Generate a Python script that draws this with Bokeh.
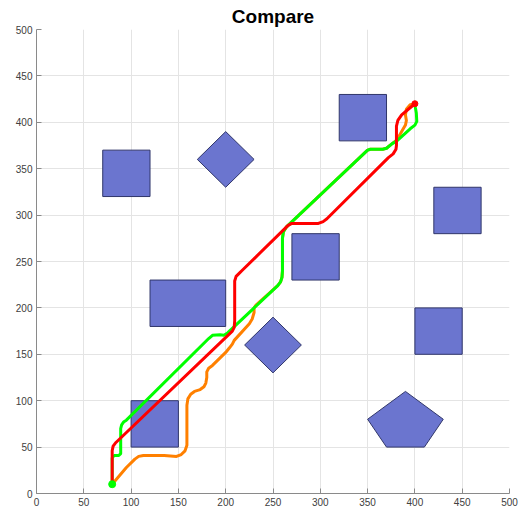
from bokeh.plotting import figure
from bokeh.models import Range1d, FixedTicker
from bokeh.embed import file_html
from bokeh.resources import INLINE

# Obstacles: axis-aligned boxes (lower-left corner, width, height)
box_x0 = [100, 120, 70, 270, 320, 420, 400]
box_y0 = [50, 180, 320, 230, 380, 280, 150]
box_w = [50, 80, 50, 50, 50, 50, 50]
box_h = [50, 50, 50, 50, 50, 50, 50]

# Obstacles: diamonds (centre and half-diagonal)
dia_cx = [200, 250]
dia_cy = [360, 160]
dia_r = [30, 30]

# Obstacle: pentagon vertices
pent_x = [390, 430, 410, 370, 350]
pent_y = [110, 80, 50, 50, 80]

start = (80, 10)
goal = (400, 420)

# Planned paths
green_x = [80, 80, 81, 83, 87, 89, 89, 90, 92, 95, 182, 186, 194, 198, 202, 255, 258, 259.5,
           260, 260, 261, 264, 350, 353, 366, 370, 376, 381, 395, 400, 402, 401.5, 400.5, 400]
green_y = [10, 38, 40, 41, 41, 43, 70, 74, 77, 79, 167, 170.5, 171, 170.5, 173, 224, 228, 233,
           240, 275, 282, 287, 370, 371, 371, 372, 377, 380, 393, 397, 401, 410, 416, 420]

orange_x = [80, 95, 104, 108, 113, 135, 148, 153, 157, 159, 159, 160, 163, 167, 173, 177, 179,
            180, 180, 182, 186, 200, 204, 207, 209, 225, 228, 230, 230, 232, 255, 258, 259.5,
            260, 260, 261, 264, 350, 353, 366, 370, 376, 381, 386, 390, 391, 390, 391, 395, 400]
orange_y = [10, 28, 37, 40, 41, 41, 40, 42, 46, 52, 95, 102, 107, 110, 112, 115, 119,
            125, 131, 135, 138, 152, 157, 161, 165, 183, 188, 195, 200, 203, 224, 228, 233,
            240, 275, 282, 287, 370, 371, 371, 372, 377, 381, 390, 397, 402, 408, 414, 419, 420]

red_x = [80, 80, 81, 84, 204, 207, 209, 209.5, 209.5, 211, 215, 217, 266, 270, 298, 303, 307,
         372, 377, 380, 380.5, 380.5, 382, 386, 400]
red_y = [10, 46, 51, 55, 172, 175, 179, 186, 229, 234, 238, 240, 289, 291, 291, 293, 296,
         362, 366, 371, 375, 396, 402, 408, 420]

# Build polygon vertex lists for every obstacle
obs_xs, obs_ys = [], []
for x0, y0, w, h in zip(box_x0, box_y0, box_w, box_h):
    obs_xs.append([x0, x0 + w, x0 + w, x0])
    obs_ys.append([y0, y0, y0 + h, y0 + h])
for cx, cy, r in zip(dia_cx, dia_cy, dia_r):
    obs_xs.append([cx, cx + r, cx, cx - r])
    obs_ys.append([cy + r, cy, cy - r, cy])
obs_xs.append(pent_x)
obs_ys.append(pent_y)

p = figure(width=521, height=512, output_backend="svg", toolbar_location=None,
           x_range=Range1d(0, 500), y_range=Range1d(0, 500),
           min_border_left=36, min_border_right=12, min_border_top=29, min_border_bottom=19,
           title="Compare")
p.outline_line_color = None
p.background_fill_color = "white"
p.border_fill_color = "white"

p.title.align = "center"
p.title.text_font = "Liberation Sans"
p.title.text_font_size = "19px"
p.title.text_font_style = "bold"
p.title.text_color = "black"
p.title.standoff = 5

ticks = list(range(0, 501, 50))
for ax in (p.xaxis[0], p.yaxis[0]):
    ax.ticker = FixedTicker(ticks=ticks)
    ax.major_tick_in = 5
    ax.major_tick_out = 0
    ax.minor_tick_line_color = None
    ax.axis_line_color = "#8a8a8a"
    ax.major_tick_line_color = "#8a8a8a"
    ax.major_label_text_font = "Liberation Sans"
    ax.major_label_text_font_size = "10px"
    ax.major_label_text_color = "#404040"
    ax.major_label_standoff = 4

for g in (p.xgrid[0], p.ygrid[0]):
    g.ticker = FixedTicker(ticks=ticks)
    g.grid_line_color = "#e4e4e4"
    g.grid_line_width = 1

p.patches(obs_xs, obs_ys, fill_color="#6b75cf", fill_alpha=1.0,
          line_color="#30366a", line_width=1)

p.line(orange_x, orange_y, line_color="#ff8000", line_width=3, line_join="round")
p.line(green_x, green_y, line_color="#00ff00", line_width=3, line_join="round")
p.line(red_x, red_y, line_color="#ff0000", line_width=3, line_join="round")

p.scatter([start[0]], [start[1]], size=7, fill_color="#00ff00", line_color="#00ff00")
p.scatter([goal[0]], [goal[1]], size=6, fill_color="#ff0000", line_color="#ff0000")

open("out.html", "w").write(file_html(p, INLINE))
